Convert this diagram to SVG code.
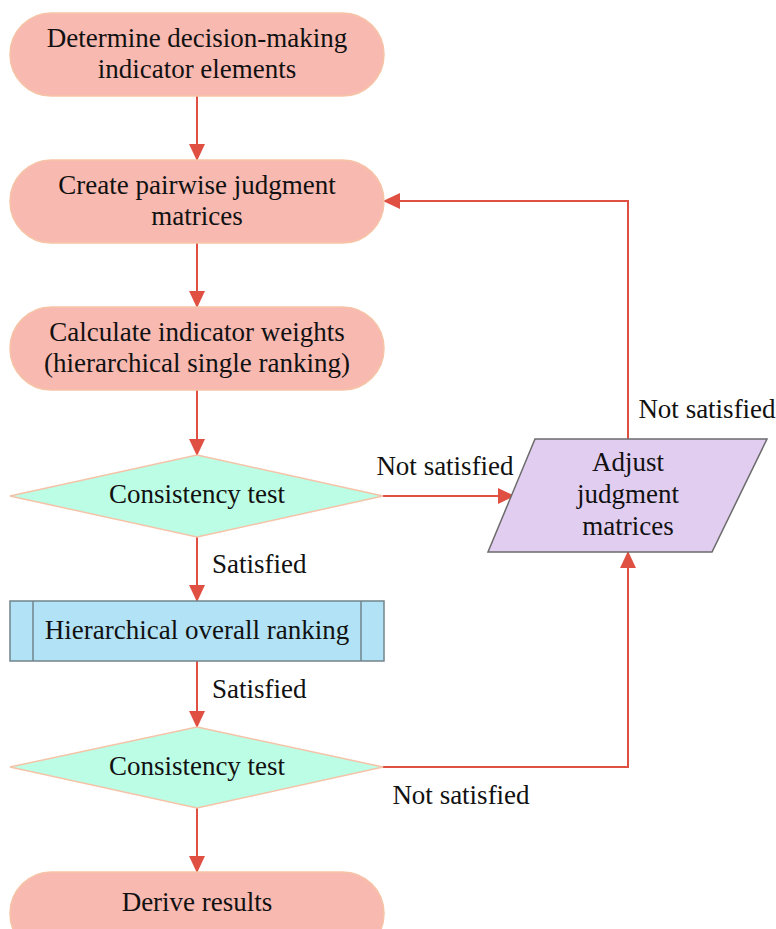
<svg xmlns="http://www.w3.org/2000/svg" width="776" height="929" viewBox="0 0 776 929">
<defs>
<marker id="ah" markerWidth="17" markerHeight="16" refX="16" refY="8" orient="auto" markerUnits="userSpaceOnUse">
<path d="M0,0 L17,8 L0,16 Z" fill="#e05042"/>
</marker>
<style>
.term{fill:#f8b9b1;stroke:#f7c3a6;stroke-width:1.5}
.dia{fill:#bcfde5;stroke:#f5c3a8;stroke-width:1.5}
.proc{fill:#b2e2f5;stroke:#72858c;stroke-width:1.5}
.par{fill:#e1cdf0;stroke:#6b6b6b;stroke-width:1.5}
.edge{fill:none;stroke:#e05042;stroke-width:2}
.t{font-family:'Liberation Serif','Times New Roman',serif;font-size:27px;fill:#111}
.c{text-anchor:middle}
</style>
</defs>
<rect width="776" height="929" fill="#ffffff"/>
<g id="edges">
<path class="edge" d="M197,96 V160" marker-end="url(#ah)"/>
<path class="edge" d="M197,243 V307" marker-end="url(#ah)"/>
<path class="edge" d="M197,390 V455" marker-end="url(#ah)"/>
<path class="edge" d="M197,537 V601" marker-end="url(#ah)"/>
<path class="edge" d="M197,661 V727" marker-end="url(#ah)"/>
<path class="edge" d="M197,808 V872" marker-end="url(#ah)"/>
<path class="edge" d="M383,496 H514" marker-end="url(#ah)"/>
<path class="edge" d="M628,439 V201 H384" marker-end="url(#ah)"/>
<path class="edge" d="M383,767 H628 V552" marker-end="url(#ah)"/>
<text class="t" x="212" y="573">Satisfied</text>
<text class="t" x="212" y="698">Satisfied</text>
<text class="t c" x="445" y="475">Not satisfied</text>
<text class="t c" x="707" y="418">Not satisfied</text>
<text class="t c" x="461" y="804">Not satisfied</text>
</g>
<g id="n1">
<rect class="term" x="10" y="13" width="374" height="83" rx="41.5"/>
<text class="t c" x="197" y="47">Determine decision-making</text>
<text class="t c" x="197" y="78">indicator elements</text>
</g>
<g id="n2">
<rect class="term" x="10" y="160" width="374" height="83" rx="41.5"/>
<text class="t c" x="197" y="194">Create pairwise judgment</text>
<text class="t c" x="197" y="225">matrices</text>
</g>
<g id="n3">
<rect class="term" x="10" y="307" width="374" height="83" rx="41.5"/>
<text class="t c" x="197" y="341">Calculate indicator weights</text>
<text class="t c" x="197" y="372">(hierarchical single ranking)</text>
</g>
<g id="d1">
<polygon class="dia" points="197,455 383,496 197,537 10,496"/>
<text class="t c" x="197" y="503">Consistency test</text>
</g>
<g id="p1">
<rect class="proc" x="10" y="601" width="374" height="60"/>
<line class="proc" x1="33" y1="601" x2="33" y2="661"/>
<line class="proc" x1="361" y1="601" x2="361" y2="661"/>
<text class="t c" x="197" y="639">Hierarchical overall ranking</text>
</g>
<g id="d2">
<polygon class="dia" points="197,727 383,767 197,808 10,767"/>
<text class="t c" x="197" y="775">Consistency test</text>
</g>
<g id="n4">
<rect class="term" x="10" y="872" width="374" height="83" rx="41.5"/>
<text class="t c" x="197" y="911">Derive results</text>
</g>
<g id="adj">
<polygon class="par" points="535,439 767,439 712,552 488,552"/>
<text class="t c" x="628" y="471">Adjust</text>
<text class="t c" x="628" y="503">judgment</text>
<text class="t c" x="628" y="535">matrices</text>
</g>
</svg>
